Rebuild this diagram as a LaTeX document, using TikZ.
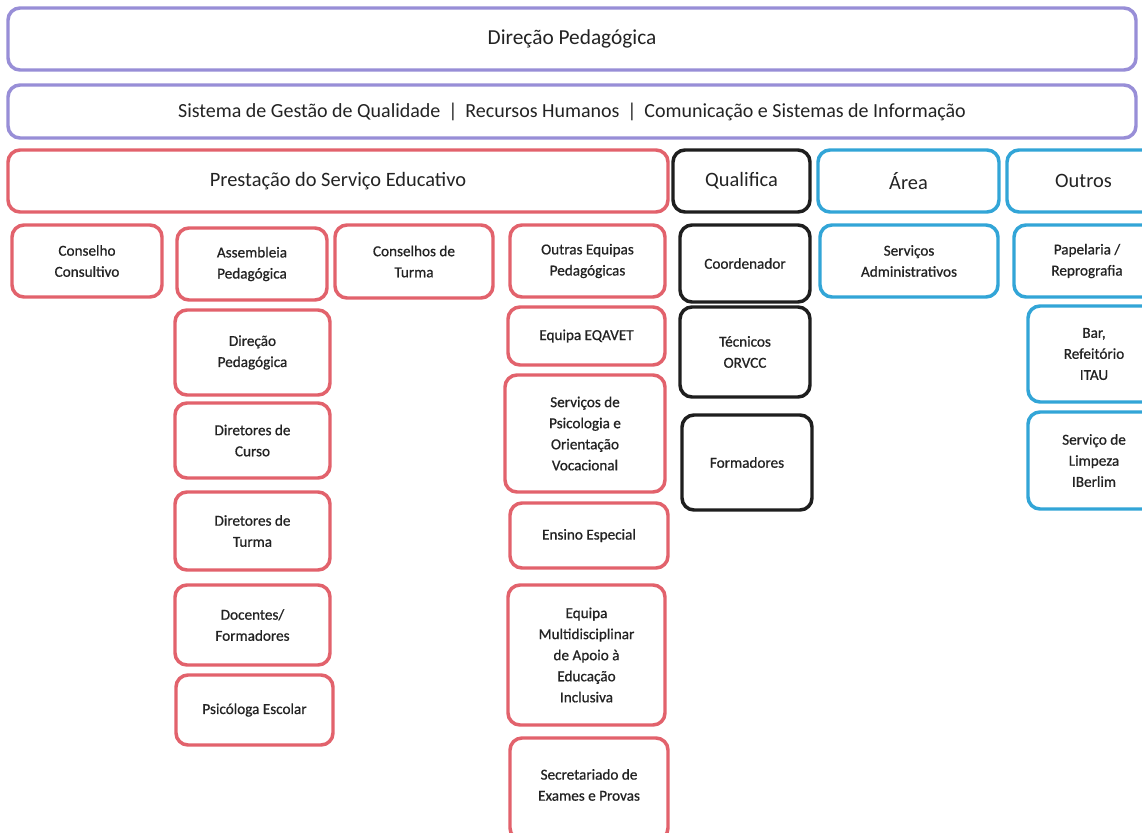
\documentclass[tikz,border=0pt]{standalone}
\usepackage{fontspec}
\setmainfont{Carlito}
\newfontfamily\smallfont[FakeBold=0.7]{Carlito}
\definecolor{cpurple}{RGB}{152,142,215}
\definecolor{cred}{RGB}{226,98,108}
\definecolor{cblack}{RGB}{30,30,30}
\definecolor{cblue}{RGB}{50,165,215}
\definecolor{ctext}{RGB}{35,35,35}
\newcommand\bx[7]{\node[#2, minimum width={(#5-#3)*0.75pt}, minimum height={(#6-#4)*0.75pt}] (#1) at ({(#3+#5)/2},{(#4+#6)/2}) {#7};}
\tikzset{
  base/.style={rounded corners=9pt, line width=2.6pt, fill=white, align=center, inner sep=0pt, text=ctext},
  big/.style={font=\fontsize{15.3}{17}\selectfont},
  small/.style={font=\smallfont\fontsize{11.4}{15.8}\selectfont},
  pbox/.style={base, draw=cpurple, font=\fontsize{16}{18}\selectfont},
  pbox2/.style={base, draw=cpurple, font=\fontsize{15}{17}\selectfont},
  rhead/.style={base, draw=cred, big},
  khead/.style={base, draw=cblack, big},
  bhead/.style={base, draw=cblue, big},
  rbox/.style={base, draw=cred, small},
  kbox/.style={base, draw=cblack, small},
  bbox/.style={base, draw=cblue, small},
}
\begin{document}
\begin{tikzpicture}[x=0.75pt,y=-0.75pt]
\useasboundingbox[fill=white] (0,0) rectangle (1142,832);
% top rows
\bx{dir}{pbox}{8}{8}{1136}{70}{Direção Pedagógica}
\bx{sgq}{pbox2}{8}{85}{1136}{138}{Sistema de Gestão de Qualidade \,|\, Recursos Humanos \,|\, Comunicação e Sistemas de Informação}
% headers
\bx{pse}{rhead}{8}{150}{668}{212}{Prestação do Serviço Educativo}
\bx{qua}{khead}{673}{150}{810}{212}{Qualifica}
\bx{are}{bhead}{818}{150}{999}{212}{Área}
\bx{out}{bhead}{1007}{150}{1160}{212}{Outros}
% row 2
\bx{cc}{rbox}{12}{225}{162}{297}{Conselho\\Consultivo}
\bx{ap}{rbox}{177}{228}{327}{300}{Assembleia\\Pedagógica}
\bx{ct}{rbox}{335}{225}{493}{298}{Conselhos de\\Turma}
\bx{oep}{rbox}{510}{225}{665}{297}{Outras Equipas\\Pedagógicas}
\bx{coo}{kbox}{680}{225}{810}{302}{Coordenador}
\bx{sa}{bbox}{820}{225}{998}{297}{Serviços\\Administrativos}
\bx{pap}{bbox}{1014}{225}{1160}{297}{Papelaria /\\Reprografia}
% Assembleia column
\bx{dp}{rbox}{175}{310}{330}{395}{Direção\\Pedagógica}
\bx{dc}{rbox}{175}{403}{330}{478}{Diretores de\\Curso}
\bx{dt}{rbox}{175}{492}{330}{570}{Diretores de\\Turma}
\bx{df}{rbox}{175}{585}{330}{665}{Docentes/\\Formadores}
\bx{pe}{rbox}{176}{675}{333}{745}{Psicóloga Escolar}
% Outras column
\bx{eq}{rbox}{508}{307}{665}{365}{Equipa EQAVET}
\bx{spo}{rbox}{505}{375}{665}{492}{Serviços de\\Psicologia e\\Orientação\\Vocacional}
\bx{ee}{rbox}{510}{503}{668}{568}{Ensino Especial}
\bx{em}{rbox}{508}{585}{665}{725}{Equipa\\Multidisciplinar\\de Apoio à\\Educação\\Inclusiva}
\bx{sep}{rbox}{510}{738}{668}{840}{\\[-14pt]Secretariado de\\Exames e Provas}
% Qualifica column
\bx{tec}{kbox}{680}{307}{810}{397}{Técnicos\\ORVCC}
\bx{for}{kbox}{682}{415}{812}{510}{Formadores}
% Outros column
\bx{bar}{bbox}{1028}{306}{1160}{402}{Bar,\\Refeitório\\ITAU}
\bx{lim}{bbox}{1028}{412}{1160}{509}{Serviço de\\Limpeza\\IBerlim}
\end{tikzpicture}
\end{document}
